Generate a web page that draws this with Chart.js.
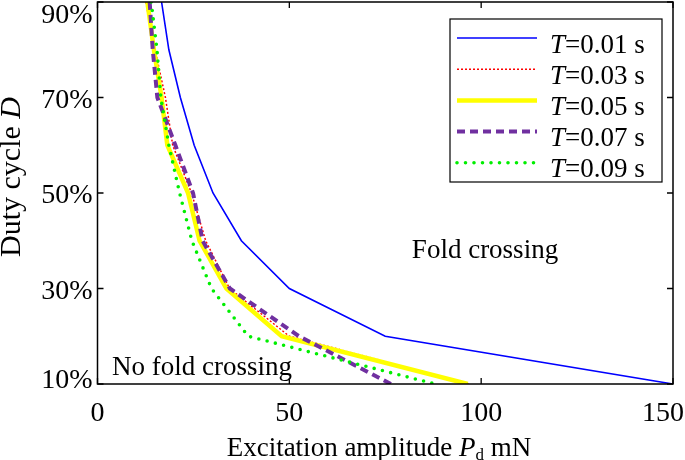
<!DOCTYPE html>
<html><head><meta charset="utf-8">
<script src="https://cdn.jsdelivr.net/npm/chart.js@4/dist/chart.umd.min.js"></script>
<style>html,body{margin:0;padding:0;background:#fff}#wrap{width:685px;height:460px}</style>
</head><body><div id="wrap"><canvas id="c" width="685" height="460"></canvas></div>
<script>
// Duty cycle levels (%) shared by all series
const dutyLevels = [90, 80, 70, 60, 50, 40, 30, 20, 10];
// Periods T (s)
const periods = ['0.01', '0.03', '0.05', '0.07', '0.09'];
// Excitation amplitude Pd (mN) at each duty level
const ampT001 = [16.7, 18.6, 21.6, 25.2, 30.1, 37.5, 50.0, 75.0, 150.0];
const ampT003 = [12.6, 15.0, 17.7, 19.6, 24.5, 28.2, 34.4, 50.0, 97.0];
const ampT005 = [13.0, 14.7, 16.7, 18.2, 23.6, 26.6, 33.6, 48.0, 96.5];
const ampT007 = [13.6, 14.4, 15.6, 20.3, 24.9, 27.4, 34.5, 52.5, 76.5];
const ampT009 = [14.0, 15.5, 16.5, 18.6, 21.4, 24.6, 29.7, 39.3, 88.0];
// Axis ticks
const xTicks = [0, 50, 100, 150];
const yTicks = [10, 30, 50, 70, 90];
const regionLabels = ['Fold crossing', 'No fold crossing'];

const FONT = "'Liberation Serif','Times New Roman',serif";
const series = [ampT001, ampT003, ampT005, ampT007, ampT009];
const styles = [
  {c:'#0000ff', w:1.6, dash:[], cap:'butt'},
  {c:'#ff0000', w:1.5, dash:[2,2], cap:'butt'},
  {c:'#ffff00', w:4.5, dash:[], cap:'butt'},
  {c:'#7030a0', w:4, dash:[8,5], cap:'butt'},
  {c:'#00ee00', w:3.6, dash:[0,8.5], cap:'round'}
];
const datasets = series.map((arr, i) => ({
  label: 'T=' + periods[i] + ' s',
  data: arr.map((x, k) => ({x: x, y: dutyLevels[k]})),
  borderColor: styles[i].c,
  backgroundColor: styles[i].c,
  borderWidth: styles[i].w,
  borderDash: styles[i].dash,
  borderCapStyle: styles[i].cap,
  pointRadius: 0,
  tension: 0,
  fill: false,
  order: 5 - i
}));

const deco = {
  id: 'deco',
  afterDraw(chart) {
    const ctx = chart.ctx;
    const a = chart.chartArea;
    const xs = chart.scales.x, ys = chart.scales.y;
    ctx.save();
    // frame
    ctx.strokeStyle = '#000';
    ctx.lineWidth = 1.5;
    ctx.setLineDash([]);
    ctx.strokeRect(a.left, a.top, a.right - a.left, a.bottom - a.top);
    // inward ticks
    const tl = 6;
    ctx.lineWidth = 1.3;
    ctx.beginPath();
    xTicks.forEach(v => {
      const px = xs.getPixelForValue(v);
      ctx.moveTo(px, a.bottom); ctx.lineTo(px, a.bottom - tl);
      ctx.moveTo(px, a.top); ctx.lineTo(px, a.top + tl);
    });
    yTicks.forEach(v => {
      const py = ys.getPixelForValue(v);
      ctx.moveTo(a.left, py); ctx.lineTo(a.left + tl, py);
      ctx.moveTo(a.right, py); ctx.lineTo(a.right - tl, py);
    });
    ctx.stroke();
    // tick labels
    ctx.fillStyle = '#000';
    ctx.font = '28px ' + FONT;
    ctx.textAlign = 'left';
    ctx.textBaseline = 'alphabetic';
    xTicks.forEach(v => {
      const s = String(v);
      const w = ctx.measureText(s).width;
      let x = xs.getPixelForValue(v) - w / 2;
      if (x + w > chart.width - 1) x = chart.width - 1 - w;
      ctx.fillText(s, x, a.bottom + 37);
    });
    ctx.textAlign = 'right';
    yTicks.forEach(v => {
      const py = ys.getPixelForValue(v);
      const base = Math.min(Math.max(py + 10, 23), a.bottom + 4);
      ctx.fillText(v + '%', a.left - 5, base);
    });
    // x title with italic P and subscript d
    const parts = [
      {t:'Excitation amplitude ', f:'27px ' + FONT, dy:0},
      {t:'P', f:'italic 27px ' + FONT, dy:0},
      {t:'d', f:'17px ' + FONT, dy:4},
      {t:' mN', f:'27px ' + FONT, dy:0}
    ];
    let total = 0;
    parts.forEach(p => { ctx.font = p.f; p.w = ctx.measureText(p.t).width; total += p.w; });
    let x0 = 379 - total / 2;
    ctx.textAlign = 'left';
    parts.forEach(p => { ctx.font = p.f; ctx.fillText(p.t, x0, 456 + p.dy); x0 += p.w; });
    // y title
    ctx.save();
    ctx.translate(20, 177);
    ctx.rotate(-Math.PI / 2);
    const yparts = [
      {t:'Duty cycle ', f:'30px ' + FONT},
      {t:'D', f:'italic 30px ' + FONT}
    ];
    let yt = 0;
    yparts.forEach(p => { ctx.font = p.f; p.w = ctx.measureText(p.t).width; yt += p.w; });
    let y0 = -yt / 2;
    yparts.forEach(p => { ctx.font = p.f; ctx.fillText(p.t, y0, 0); y0 += p.w; });
    ctx.restore();
    // region labels
    ctx.font = '27px ' + FONT;
    ctx.textAlign = 'center';
    ctx.fillText(regionLabels[0], xs.getPixelForValue(101), ys.getPixelForValue(36.4));
    ctx.textAlign = 'left';
    ctx.fillText(regionLabels[1], xs.getPixelForValue(3.8), ys.getPixelForValue(11.9));
    // legend
    const bx = 450, by = 19, bw = 212, bh = 163;
    ctx.fillStyle = '#fff';
    ctx.fillRect(bx, by, bw, bh);
    ctx.strokeStyle = '#000';
    ctx.lineWidth = 1.2;
    ctx.strokeRect(bx, by, bw, bh);
    chart.data.datasets.forEach((ds, i) => {
      const ly = 38 + i * 31.2;
      ctx.save();
      ctx.strokeStyle = ds.borderColor;
      ctx.lineWidth = ds.borderWidth;
      ctx.setLineDash(ds.borderDash);
      ctx.lineCap = ds.borderCapStyle;
      ctx.beginPath();
      ctx.moveTo(457, ly); ctx.lineTo(537, ly);
      ctx.stroke();
      ctx.restore();
      ctx.fillStyle = '#000';
      const tb = 53 + i * 31.1;
      ctx.font = 'italic 27px ' + FONT;
      ctx.textAlign = 'left';
      const first = ds.label.charAt(0);
      ctx.fillText(first, 550, tb);
      const w1 = ctx.measureText(first).width;
      ctx.font = '27px ' + FONT;
      ctx.fillText(ds.label.slice(1), 550 + w1, tb);
    });
    ctx.restore();
  }
};

new Chart(document.getElementById('c'), {
  type: 'line',
  data: { datasets: datasets },
  options: {
    responsive: false,
    animation: false,
    devicePixelRatio: 1,
    layout: { padding: { left: 97.5, right: 12, top: 2, bottom: 76 } },
    scales: {
      x: { type: 'linear', min: 0, max: 150, display: false },
      y: { type: 'linear', min: 10, max: 90, display: false }
    },
    plugins: { legend: { display: false }, tooltip: { enabled: false } }
  },
  plugins: [deco]
});
</script>
</body></html>
